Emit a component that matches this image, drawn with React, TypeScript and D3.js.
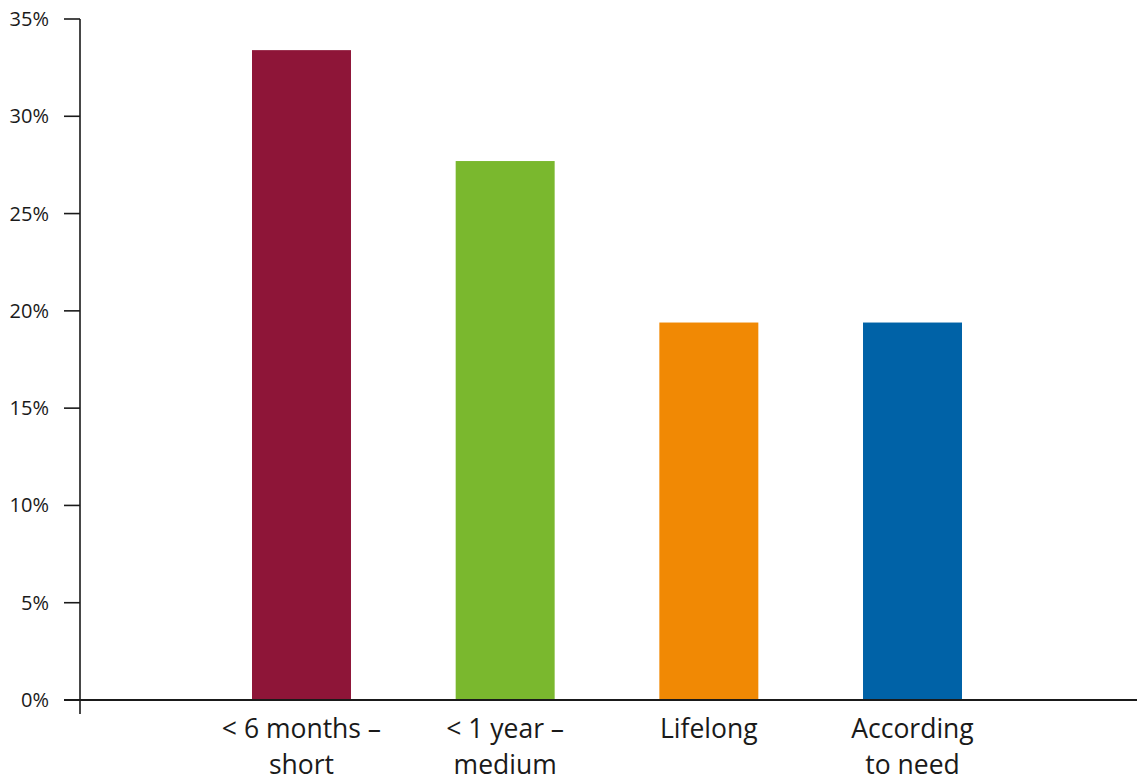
import * as d3 from 'd3';
import * as React from 'react';

const { useRef, useEffect } = React;

const width = 1137;
const height = 781;
const margin = { top: 19, right: 3, bottom: 81, left: 80 };

const categories = ['< 6 months – short', '< 1 year – medium', 'Lifelong', 'According to need'];
const labelLines = [['< 6 months –', 'short'], ['< 1 year –', 'medium'], ['Lifelong'], ['According', 'to need']];
const values = [33.4, 27.7, 19.4, 19.4];
const colors = ['#8e1538', '#7ab82e', '#f18904', '#0062a7'];
const yTicks = [0, 5, 10, 15, 20, 25, 30, 35];

export default () => {
  const rootRef = useRef<SVGSVGElement>(null);

  useEffect(() => {
    const svg = d3.select(rootRef.current);
    svg.selectAll('*').remove();

    const x = d3
      .scaleBand()
      .domain(categories)
      .range([margin.left, width - margin.right])
      .paddingInner(0.514)
      .paddingOuter(0.8445);

    const y = d3
      .scaleLinear()
      .domain([0, 35])
      .range([height - margin.bottom, margin.top]);

    const font = "'Open Sans', sans-serif";
    const ink = '#1a1a1a';

    // bars
    svg
      .append('g')
      .selectAll('rect')
      .data(categories)
      .join('rect')
      .attr('x', d => x(d) as number)
      .attr('y', (d, i) => y(values[i]))
      .attr('width', x.bandwidth())
      .attr('height', (d, i) => y(0) - y(values[i]))
      .attr('fill', (d, i) => colors[i]);

    // y axis
    const yAxis = svg.append('g');
    yAxis
      .append('line')
      .attr('x1', margin.left)
      .attr('x2', margin.left)
      .attr('y1', y(35))
      .attr('y2', y(0) + 14)
      .attr('stroke', ink)
      .attr('stroke-width', 1.6);
    const tick = yAxis
      .selectAll('g.tick')
      .data(yTicks)
      .join('g')
      .attr('class', 'tick')
      .attr('transform', d => `translate(0,${y(d)})`);
    tick
      .append('line')
      .attr('x1', margin.left - 16)
      .attr('x2', margin.left)
      .attr('stroke', ink)
      .attr('stroke-width', 1.6);
    tick
      .append('text')
      .attr('x', margin.left - 31)
      .attr('dy', '0.35em')
      .attr('text-anchor', 'end')
      .attr('font-family', font)
      .attr('font-size', 20)
      .attr('fill', ink)
      .text(d => `${d}%`);

    // x axis
    svg
      .append('line')
      .attr('x1', margin.left - 16)
      .attr('x2', width)
      .attr('y1', y(0))
      .attr('y2', y(0))
      .attr('stroke', ink)
      .attr('stroke-width', 2);

    const xl = svg
      .append('g')
      .selectAll('text')
      .data(categories)
      .join('text')
      .attr('x', d => (x(d) as number) + x.bandwidth() / 2)
      .attr('y', y(0) + 38)
      .attr('text-anchor', 'middle')
      .attr('font-family', font)
      .attr('font-size', 26.5)
      .attr('fill', ink);
    xl.selectAll('tspan')
      .data((d, i) => labelLines[i])
      .join('tspan')
      .attr('x', function () {
        return (this.parentNode as SVGTextElement).getAttribute('x');
      })
      .attr('dy', (d, i) => (i === 0 ? 0 : 35.5))
      .text(d => d);
  }, []);

  return (
    <svg
      ref={rootRef}
      width={width}
      height={height}
      style={{ position: 'absolute', left: 0, top: 0, background: '#fff' }}
    />
  );
};
